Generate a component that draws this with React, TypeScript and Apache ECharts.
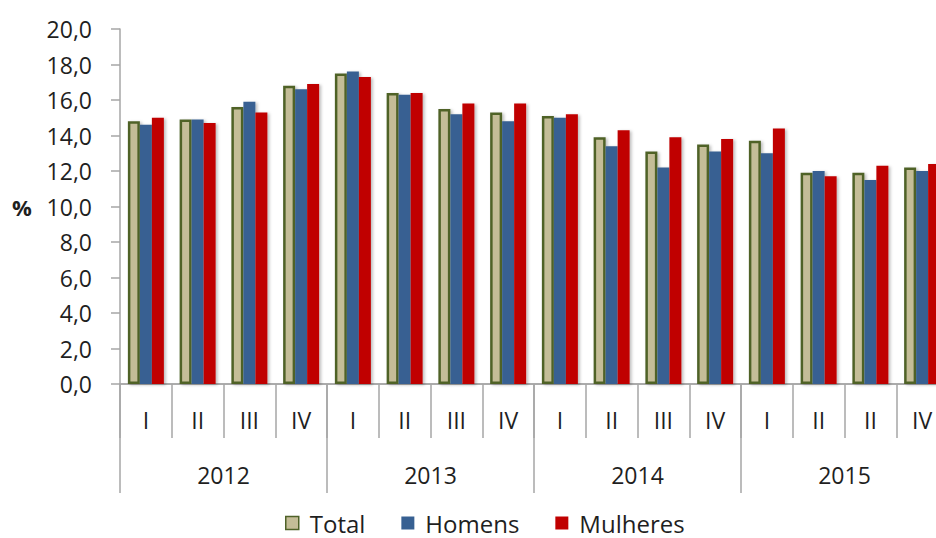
import React, { useEffect, useRef } from "react";
import * as echarts from "echarts";

const quarters = ["I", "II", "III", "IV", "I", "II", "III", "IV", "I", "II", "III", "IV", "I", "II", "II", "IV"];
const years = ["2012", "2013", "2014", "2015"];
const total = [14.8, 14.9, 15.6, 16.8, 17.5, 16.4, 15.5, 15.3, 15.1, 13.9, 13.1, 13.5, 13.7, 11.9, 11.9, 12.2];
const homens = [14.6, 14.9, 15.9, 16.6, 17.6, 16.3, 15.2, 14.8, 15.0, 13.4, 12.2, 13.1, 13.0, 12.0, 11.5, 12.0];
const mulheres = [15.0, 14.7, 15.3, 16.9, 17.3, 16.4, 15.8, 15.8, 15.2, 14.3, 13.9, 13.8, 14.4, 11.7, 12.3, 12.4];
const yTicks = { min: 0, max: 20, interval: 2 };

const FONT = "'Open Sans', sans-serif";
const TEXT = "#1f1f1f";
const AXIS = "#a6a6a6";

export default function App() {
  const ref = useRef<HTMLDivElement>(null);
  useEffect(() => {
    document.body.style.margin = "0";
    document.body.style.overflow = "hidden";
    const chart = echarts.init(ref.current!, null, { renderer: "svg" });
    const shadow = {
      shadowColor: "rgba(0,0,0,0.25)",
      shadowBlur: 3,
      shadowOffsetX: 2,
      shadowOffsetY: 1,
    };
    chart.setOption({
      animation: false,
      backgroundColor: "#ffffff",
      textStyle: { fontFamily: FONT },
      grid: { left: 120, right: 0, top: 29, bottom: 154, containLabel: false },
      legend: {
        top: 506,
        left: 280,
        icon: "rect",
        itemWidth: 13,
        itemHeight: 13,
        itemGap: 36,
        textStyle: { fontFamily: FONT, fontSize: 24, color: TEXT, padding: [0, 0, 0, 6] },
        data: [
          { name: "Total", itemStyle: { borderWidth: 1.5 } },
          { name: "Homens", itemStyle: { borderWidth: 0 } },
          { name: "Mulheres", itemStyle: { borderWidth: 0 } },
        ],
      },
      xAxis: [
        {
          type: "category",
          data: quarters,
          position: "bottom",
          axisLine: { show: true, lineStyle: { color: AXIS, width: 1.5 } },
          axisTick: { show: true, interval: 0, length: 54, lineStyle: { color: AXIS, width: 1.5 } },
          axisLabel: { interval: 0, margin: 24, fontSize: 23, color: TEXT, fontFamily: FONT },
          splitLine: { show: false },
        },
        {
          type: "category",
          data: years,
          position: "bottom",
          axisLine: { show: true, lineStyle: { color: AXIS, width: 1.5 } },
          axisTick: { show: true, interval: 0, length: 109, lineStyle: { color: AXIS, width: 1.5 } },
          axisLabel: { interval: 0, margin: 79, fontSize: 23, color: TEXT, fontFamily: FONT },
          splitLine: { show: false },
        },
      ],
      yAxis: {
        type: "value",
        min: yTicks.min,
        max: yTicks.max,
        interval: yTicks.interval,
        name: "%",
        nameLocation: "middle",
        nameRotate: 0,
        nameGap: 98,
        nameTextStyle: {
          fontFamily: FONT,
          fontSize: 22,
          fontWeight: "bold",
          color: TEXT,
          align: "center",
          verticalAlign: "middle",
        },
        axisLine: { show: true, lineStyle: { color: AXIS, width: 1.5 } },
        axisTick: { show: true, length: 9, lineStyle: { color: AXIS, width: 1.5 } },
        axisLabel: {
          margin: 28,
          fontSize: 23,
          color: TEXT,
          fontFamily: FONT,
          formatter: (v: number) => v.toFixed(1).replace(".", ","),
        },
        splitLine: { show: false },
      },
      series: [
        {
          name: "Total",
          type: "bar",
          data: total,
          barWidth: 12,
          barGap: "0%",
          itemStyle: { color: "#c4bd97", borderColor: "#4f6228", borderWidth: 2.5, ...shadow },
        },
        {
          name: "Homens",
          type: "bar",
          data: homens,
          barWidth: 12,
          barGap: "0%",
          itemStyle: { color: "#376092", ...shadow },
        },
        {
          name: "Mulheres",
          type: "bar",
          data: mulheres,
          barWidth: 12,
          barGap: "0%",
          itemStyle: { color: "#c00000", ...shadow },
        },
      ],
    });
    return () => chart.dispose();
  }, []);
  return (
    <div style={{ width: 936, height: 538, overflow: "hidden" }}>
      <div ref={ref} style={{ width: 948, height: 538 }} />
    </div>
  );
}
